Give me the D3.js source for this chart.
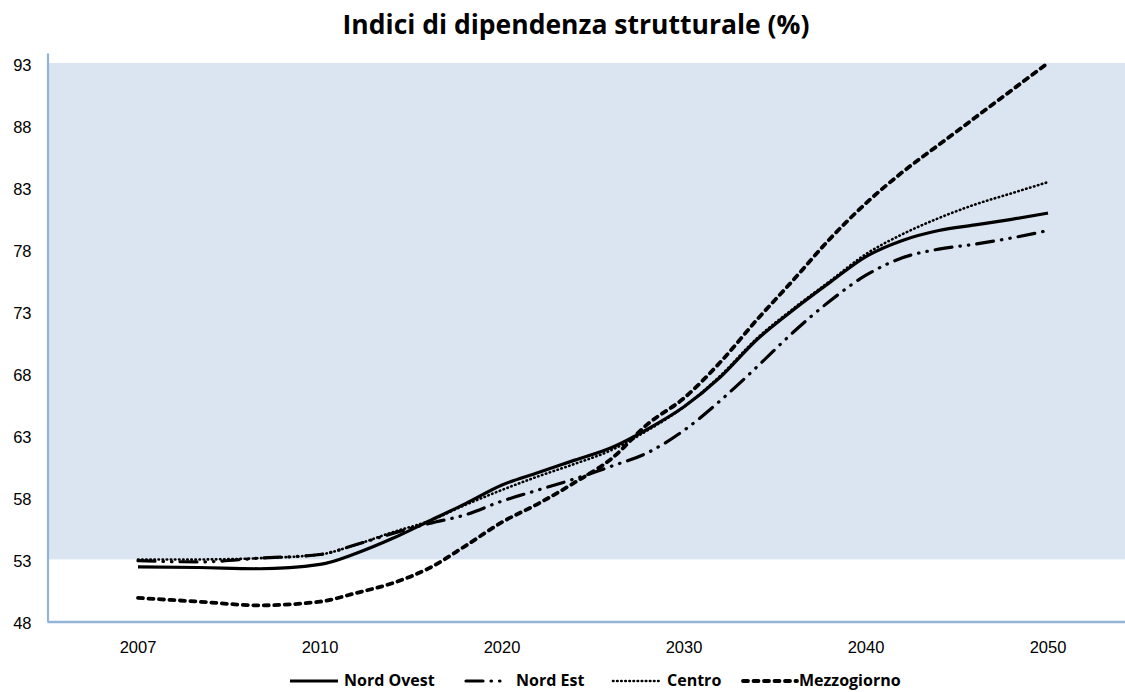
<!DOCTYPE html>
<html>
<head>
<meta charset="utf-8">
<script src="https://cdn.jsdelivr.net/npm/d3@7"></script>
<style>
  body { margin: 0; background: #fff; }
  svg { display: block; font-family: "Open Sans", Lato, sans-serif; }
</style>
</head>
<body>
<div id="chart"></div>
<script>
// categories shown on the axis
const categories = [2007, 2010, 2020, 2030, 2040, 2050];
const yTicks = [48, 53, 58, 63, 68, 73, 78, 83, 88, 93];

const years = [2007, 2008, 2009, 2010, 2012, 2014, 2016, 2018, 2020, 2022, 2024, 2026,
    2028, 2030, 2032, 2034, 2036, 2038, 2040, 2042, 2044, 2046, 2048, 2050];

const nordOvest = [52.4, 52.35, 52.25, 52.6, 53.5, 54.7, 56.1, 57.5, 59.0, 60.0, 61.0, 62.0,
    63.5, 65.3, 67.7, 70.7, 73.1, 75.3, 77.4, 78.7, 79.5, 79.95, 80.4, 80.9];
const nordEst = [52.9, 52.8, 53.1, 53.4, 54.2, 55.1, 55.9, 56.6, 57.7, 58.6, 59.5, 60.5,
    61.6, 63.4, 65.8, 68.5, 71.3, 73.8, 75.9, 77.3, 78.0, 78.4, 78.9, 79.5];
const centro = [53.0, 53.0, 53.1, 53.4, 54.2, 55.2, 56.1, 57.4, 58.6, 59.7, 60.7, 61.8,
    63.4, 65.3, 67.8, 70.8, 73.2, 75.4, 77.6, 79.2, 80.5, 81.6, 82.5, 83.4];
const mezzogiorno = [49.9, 49.6, 49.3, 49.6, 50.3, 51.1, 52.3, 54.1, 56.0, 57.5, 59.2, 61.1,
    63.9, 66.0, 68.9, 72.3, 75.5, 78.8, 81.7, 84.2, 86.4, 88.6, 90.8, 93.0];

const seriesNames = ['Nord Ovest', 'Nord Est', 'Centro', 'Mezzogiorno'];
const seriesValues = [nordOvest, nordEst, centro, mezzogiorno];

const width = 1125;
const height = 692;

const styles = {
    'Nord Ovest': { width: 3.2, dash: null },
    'Nord Est': { width: 3.2, dash: '17,8,0.5,8,0.5,8' },
    'Centro': { width: 2.6, dash: '0.5,3.6' },
    'Mezzogiorno': { width: 3.8, dash: '5,5.5' },
};

const svg = d3.select('#chart').append('svg')
    .attr('width', width).attr('height', height);

const xBand = d3.scaleBand().domain(categories).range([47, 1139]);
const centers = categories.map(c => xBand(c) + xBand.bandwidth() / 2);
// years placed between the evenly spaced category positions
const xScale = d3.scaleLinear().domain(categories).range(centers);
const yScale = d3.scaleLinear().domain([48, 93.8]).range([621.5, 53]);

// shaded band 53-93
svg.append('rect')
    .attr('x', 48).attr('width', width - 48)
    .attr('y', yScale(93)).attr('height', yScale(53) - yScale(93))
    .attr('fill', '#dbe5f1');

// axes
const yAxis = svg.append('g').attr('transform', 'translate(47.5,0)')
    .call(d3.axisLeft(yScale).tickValues(yTicks).tickSize(0).tickPadding(16));
yAxis.select('.domain').attr('stroke', '#95b3d7').attr('stroke-width', 2.2);
yAxis.selectAll('text').attr('font-size', 16.5).attr('fill', '#000').attr('dy', '0.45em');

const xAxis = svg.append('g').attr('transform', 'translate(0,621.5)')
    .call(d3.axisBottom(xBand).tickSize(0).tickPadding(20));
xAxis.select('.domain').attr('stroke', '#95b3d7').attr('stroke-width', 2.6);
xAxis.selectAll('text').attr('font-size', 16.5).attr('fill', '#000');

// lines
const line = d3.line()
    .x((d, i) => xScale(years[i]))
    .y(d => yScale(d))
    .curve(d3.curveMonotoneX);

svg.append('g').selectAll('path').data(seriesNames).join('path')
    .attr('d', (name, i) => line(seriesValues[i]))
    .attr('fill', 'none')
    .attr('stroke', '#000')
    .attr('stroke-width', d => styles[d].width)
    .attr('stroke-dasharray', d => styles[d].dash)
    .attr('stroke-linecap', d => styles[d].dash ? 'round' : 'butt');

// title
svg.append('text')
    .attr('x', 576).attr('y', 34)
    .attr('text-anchor', 'middle')
    .attr('font-size', 26.5).attr('font-weight', 'bold')
    .text('Indici di dipendenza strutturale (%)');

// legend
const legendItems = [
    { name: 'Nord Ovest', x1: 290, x2: 338, tx: 344 },
    { name: 'Nord Est', x1: 466, x2: 504, tx: 516 },
    { name: 'Centro', x1: 613, x2: 660, tx: 667 },
    { name: 'Mezzogiorno', x1: 743, x2: 797, tx: 799 },
];
const legend = svg.append('g');
legendItems.forEach(item => {
    legend.append('line')
        .attr('x1', item.x1).attr('x2', item.x2)
        .attr('y1', 681).attr('y2', 681)
        .attr('stroke', '#000')
        .attr('stroke-width', styles[item.name].width)
        .attr('stroke-dasharray', styles[item.name].dash)
        .attr('stroke-linecap', styles[item.name].dash ? 'round' : 'butt');
    legend.append('text')
        .attr('x', item.tx).attr('y', 686)
        .attr('font-size', 16).attr('font-weight', 'bold')
        .text(item.name);
});
</script>
</body>
</html>
